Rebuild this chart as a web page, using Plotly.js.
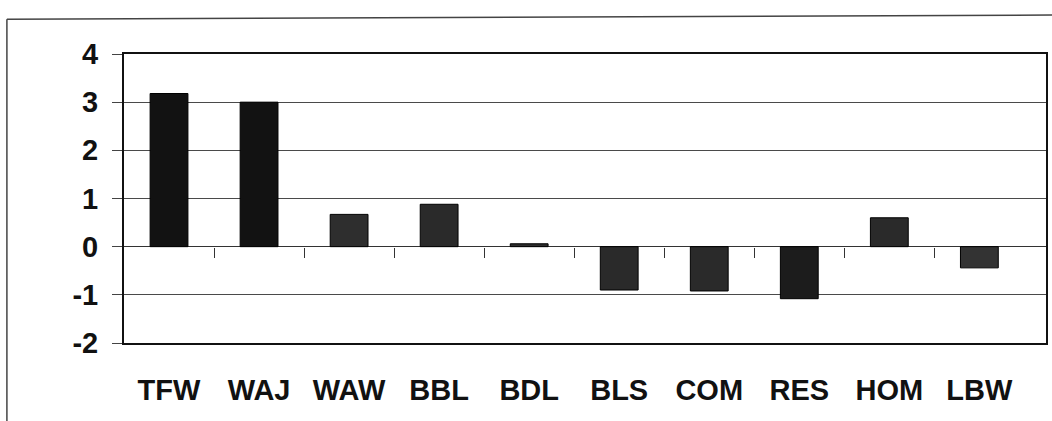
<!DOCTYPE html>
<html>
<head>
<meta charset="utf-8">
<script src="https://cdn.plot.ly/plotly-3.0.1.min.js"></script>
<style>
  html, body { margin: 0; padding: 0; background: #fff; }
  #chart { width: 1052px; height: 421px; }
</style>
</head>
<body>
<div id="chart"></div>
<script>
// ---- data ----
const categories = ['TFW', 'WAJ', 'WAW', 'BBL', 'BDL', 'BLS', 'COM', 'RES', 'HOM', 'LBW'];
const values = [3.18, 3.0, 0.67, 0.88, 0.06, -0.9, -0.92, -1.08, 0.6, -0.44];
const yTickVals = [-2, -1, 0, 1, 2, 3, 4];
const yTickText = ['-2', '-1', '0', '1', '2', '3', '4'];

// ---- styles ----
const barColors = ['#121212', '#121212', '#2e2e2e', '#2a2a2a', '#2e2e2e', '#2a2a2a', '#2a2a2a', '#1c1c1c', '#2a2a2a', '#333333'];
const boldFont = { family: 'Liberation Sans, Arial, sans-serif', size: 29, color: '#111', weight: 'bold' };
const xRange = [-0.5, 9.74];
const idx = categories.map((c, i) => i);
const boundaryTicks = categories.slice(1).map((c, i) => i + 0.5);

const bars = {
  type: 'bar',
  x: idx,
  y: values,
  width: 0.42,
  marker: { color: barColors, line: { color: '#000', width: 1 } },
  hoverinfo: 'x+y'
};

// invisible companion trace so the zero-line tick axis is drawn
const tickCarrier = {
  type: 'scatter', mode: 'none',
  x: idx, y: values,
  xaxis: 'x2', yaxis: 'y',
  hoverinfo: 'skip', showlegend: false
};

const layout = {
  width: 1052, height: 421,
  margin: { l: 124, r: 6, t: 54, b: 78 },
  paper_bgcolor: '#fff', plot_bgcolor: '#fff',
  showlegend: false,
  xaxis: {
    range: xRange,
    tickvals: idx,
    ticktext: categories,
    ticks: '',
    tickfont: boldFont,
    ticklabelstandoff: 20,
    showgrid: false,
    zeroline: false,
    showline: true, mirror: true, linecolor: '#111', linewidth: 2
  },
  xaxis2: {
    overlaying: 'x',
    anchor: 'free',
    side: 'bottom',
    position: (0 - yTickVals[0]) / (yTickVals[yTickVals.length - 1] - yTickVals[0]),
    range: xRange,
    tickvals: boundaryTicks,
    ticks: 'outside', ticklen: 10, tickwidth: 1, tickcolor: '#333',
    showticklabels: false, showgrid: false, zeroline: false, showline: false
  },
  yaxis: {
    range: [-2, 4],
    tickvals: yTickVals,
    ticktext: yTickText,
    ticks: 'outside', ticklen: 10, tickwidth: 1, tickcolor: '#444',
    tickfont: boldFont,
    ticklabelstandoff: 8,
    showgrid: true, gridcolor: '#4a4a4a', gridwidth: 1,
    zeroline: true, zerolinecolor: '#333', zerolinewidth: 1.5,
    showline: true, mirror: true, linecolor: '#111', linewidth: 2
  },
  shapes: [
    { type: 'line', xref: 'paper', yref: 'paper', x0: -0.127, x1: 1.01, y0: 1.12, y1: 1.135, line: { color: '#444', width: 1.5 } },
    { type: 'line', xref: 'paper', yref: 'paper', x0: -0.127, x1: -0.127, y0: 1.12, y1: -0.3, line: { color: '#444', width: 1.5 } }
  ]
};

Plotly.newPlot('chart', [bars, tickCarrier], layout, { displayModeBar: false, staticPlot: true });
</script>
</body>
</html>
